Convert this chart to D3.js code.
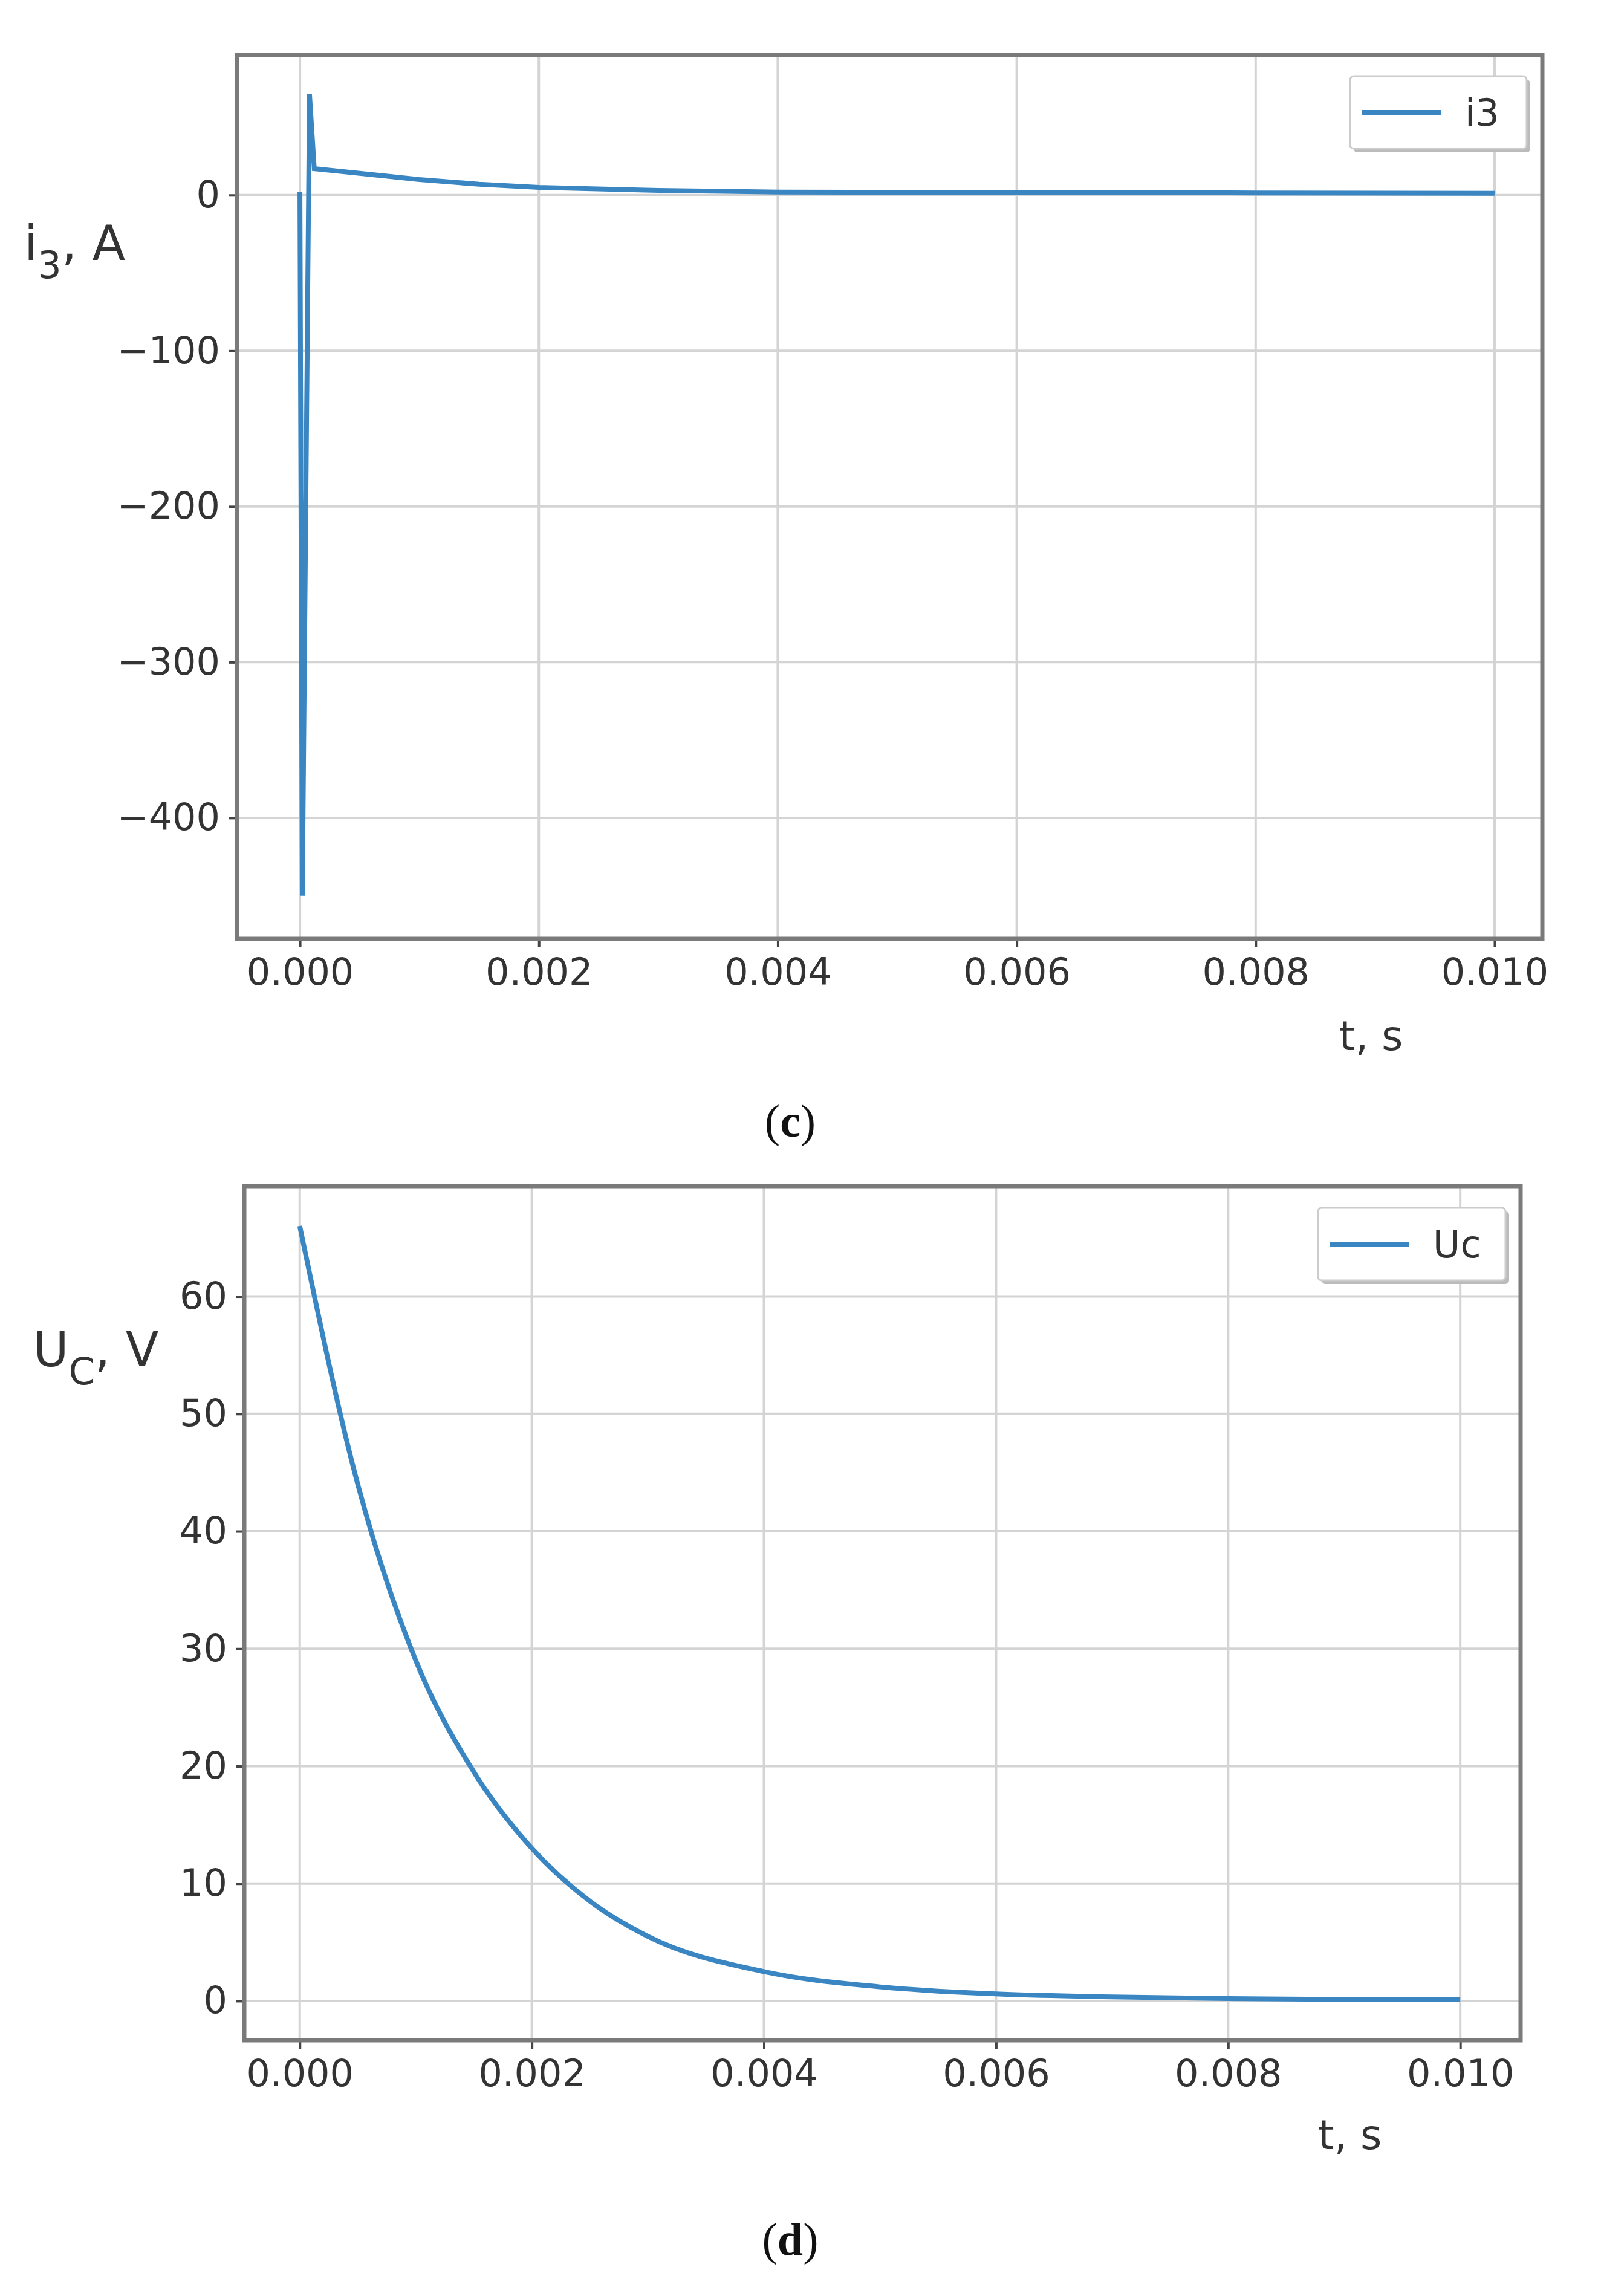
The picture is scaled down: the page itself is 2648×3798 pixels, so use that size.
<!DOCTYPE html>
<meta charset="utf-8">
<script src="https://d3js.org/d3.v7.min.js"></script>
<style>body{margin:0;background:#fff}</style>
<div id="my_dataviz"></div>
<script>
// i3 current, A
var i3T = [0, 0.00002, 0.00008, 0.00012, 0.0005, 0.001, 0.0015, 0.002, 0.003, 0.004, 0.006, 0.008, 0.010];
var i3V = [2, -450, 65, 17, 14, 10, 7, 5, 3, 2, 1.6, 1.4, 1.2];
// Uc voltage, V
var ucT = [0, 0.0005, 0.001, 0.0015, 0.002, 0.0025, 0.003, 0.004, 0.005, 0.006, 0.007, 0.008, 0.009, 0.010];
var ucV = [66, 44, 29, 19.5, 13, 8.5, 5.5, 2.5, 1.2, 0.6, 0.35, 0.2, 0.12, 0.1];
var xTicks = [0, 0.002, 0.004, 0.006, 0.008, 0.010];
var i3Ticks = [0, -100, -200, -300, -400];
var ucTicks = [0, 10, 20, 30, 40, 50, 60];

var W = 2648, H = 3798;
var svg = d3.select("#my_dataviz").append("svg").attr("width", W).attr("height", H)
  .style("font-family", "DejaVu Sans");

function panel(o) {
  var x = d3.scaleLinear().domain(o.xd).range([o.x0, o.x1]);
  var y = d3.scaleLinear().domain(o.yd).range([o.y1, o.y0]);
  var g = svg.append("g");
  // grid
  g.selectAll(".gx").data(xTicks).enter().append("line")
    .attr("x1", d => x(d)).attr("x2", d => x(d)).attr("y1", o.y0).attr("y2", o.y1)
    .attr("stroke", "#d4d4d4").attr("stroke-width", 4);
  g.selectAll(".gy").data(o.yTicks).enter().append("line")
    .attr("y1", d => y(d)).attr("y2", d => y(d)).attr("x1", o.x0).attr("x2", o.x1)
    .attr("stroke", "#d4d4d4").attr("stroke-width", 4);
  // axes
  var ax = g.append("g").attr("transform", "translate(0," + o.y1 + ")")
    .call(d3.axisBottom(x).tickValues(xTicks).tickFormat(d3.format(".3f")).tickSize(14).tickPadding(18));
  var ay = g.append("g").attr("transform", "translate(" + o.x0 + ",0)")
    .call(d3.axisLeft(y).tickValues(o.yTicks).tickFormat(d => d < 0 ? "\u2212" + (-d) : d).tickSize(14).tickPadding(14));
  [ax, ay].forEach(function (a) {
    a.select(".domain").remove();
    a.selectAll(".tick line").attr("stroke", "#444").attr("stroke-width", 4);
    a.selectAll(".tick text").attr("fill", "#333").style("font-size", "62px").style("font-family", "DejaVu Sans");
  });
  // line
  var line = d3.line().x(d => x(d[0])).y(d => y(d[1])).curve(o.curve);
  g.append("path").datum(d3.zip(o.t, o.v)).attr("d", line)
    .attr("fill", "none").attr("stroke", "#3a86c2").attr("stroke-width", 8);
  // frame
  g.append("rect").attr("x", o.x0).attr("y", o.y0).attr("width", o.x1 - o.x0).attr("height", o.y1 - o.y0)
    .attr("fill", "none").attr("stroke", "#7a7a7a").attr("stroke-width", 7);
  // legend
  var L = o.leg;
  g.append("rect").attr("x", L.x + 6).attr("y", L.y + 6).attr("width", L.w).attr("height", L.h).attr("rx", 6).attr("fill", "#bbb");
  g.append("rect").attr("x", L.x).attr("y", L.y).attr("width", L.w).attr("height", L.h).attr("rx", 6)
    .attr("fill", "#fff").attr("stroke", "#ccc").attr("stroke-width", 3);
  g.append("line").attr("x1", L.x + 20).attr("x2", L.x + 150).attr("y1", L.y + L.h / 2).attr("y2", L.y + L.h / 2)
    .attr("stroke", "#3a86c2").attr("stroke-width", 8);
  g.append("text").attr("x", L.x + 190).attr("y", L.y + L.h / 2 + 22).attr("fill", "#333").style("font-size", "62px").text(L.text);
  // axis labels
  var yl = g.append("text").attr("x", o.ylab[0]).attr("y", o.ylab[1]).attr("fill", "#333").style("font-size", "80px");
  yl.append("tspan").text(o.ysym);
  yl.append("tspan").attr("dy", 30).style("font-size", "62px").text(o.ysub);
  yl.append("tspan").attr("dy", -30).text(", " + o.yunit);
  g.append("text").attr("x", o.tlab[0]).attr("y", o.tlab[1]).attr("fill", "#333").style("font-size", "68px").text("t, s");
  var cap = g.append("text").attr("x", 1307).attr("y", o.cap).attr("text-anchor", "middle")
    .style("font-family", "Liberation Serif").style("font-size", "76px").attr("fill", "#111");
  cap.append("tspan").text("(");
  cap.append("tspan").style("font-weight", "bold").text(o.capText);
  cap.append("tspan").text(")");
}

panel({x0: 392, x1: 2551, y0: 91, y1: 1553, xd: [-0.0005267, 0.0104], yd: [-477.7, 90],
  t: i3T, v: i3V, yTicks: i3Ticks, curve: d3.curveLinear,
  leg: {x: 2233, y: 126, w: 292, h: 120, text: "i3"},
  ysym: "i", ysub: "3", yunit: "A", ylab: [40, 430], tlab: [2215, 1737], cap: 1880, capText: "c"});

panel({x0: 404, x1: 2515, y0: 1962, y1: 3375, xd: [-0.000478, 0.01052], yd: [-3.35, 69.4],
  t: ucT, v: ucV, yTicks: ucTicks, curve: d3.curveMonotoneX,
  leg: {x: 2180, y: 1998, w: 310, h: 120, text: "Uc"},
  ysym: "U", ysub: "C", yunit: "V", ylab: [55, 2260], tlab: [2180, 3555], cap: 3730, capText: "d"});
</script>
